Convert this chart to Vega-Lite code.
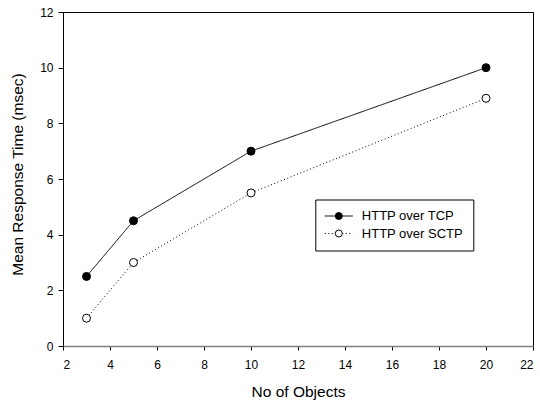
{
  "$schema": "https://vega.github.io/schema/vega-lite/v6.json",
  "width": 470,
  "height": 334,
  "autosize": "none",
  "padding": {"left": 63, "top": 12, "right": 7, "bottom": 58},
  "background": "white",
  "view": {"stroke": "black", "strokeWidth": 1},
  "config": {
    "font": "Liberation Sans",
    "axis": {
      "grid": false,
      "labelFont": "Liberation Sans",
      "labelFontSize": 12,
      "labelColor": "black",
      "titleFont": "Liberation Sans",
      "titleFontSize": 15.5,
      "titleFontWeight": "normal",
      "titleColor": "black",
      "tickColor": "black",
      "tickWidth": 1
    },
    "legend": {
      "labelFont": "Liberation Sans",
      "labelFontSize": 13,
      "labelColor": "black"
    }
  },
  "data": {
    "values": [
      {"objects": 3, "time": 2.5, "series": "HTTP over TCP"},
      {"objects": 5, "time": 4.5, "series": "HTTP over TCP"},
      {"objects": 10, "time": 7.0, "series": "HTTP over TCP"},
      {"objects": 20, "time": 10.0, "series": "HTTP over TCP"},
      {"objects": 3, "time": 1.0, "series": "HTTP over SCTP"},
      {"objects": 5, "time": 3.0, "series": "HTTP over SCTP"},
      {"objects": 10, "time": 5.5, "series": "HTTP over SCTP"},
      {"objects": 20, "time": 8.9, "series": "HTTP over SCTP"}
    ]
  },
  "encoding": {
    "x": {
      "field": "objects",
      "type": "quantitative",
      "scale": {"domain": [2, 22], "nice": false, "zero": false},
      "axis": {
        "title": "No of Objects",
        "values": [2, 4, 6, 8, 10, 12, 14, 16, 18, 20, 22],
        "domainColor": "#808080",
        "domainWidth": 1.5,
        "tickSize": 4,
        "labelPadding": 9,
        "titlePadding": 14
      }
    },
    "y": {
      "field": "time",
      "type": "quantitative",
      "scale": {"domain": [0, 12], "nice": false},
      "axis": {
        "title": "Mean Response Time (msec)",
        "values": [0, 2, 4, 6, 8, 10, 12],
        "domainColor": "black",
        "tickSize": 5,
        "labelPadding": 5,
        "titlePadding": 14,
        "titleY": 162
      }
    }
  },
  "layer": [
    {
      "mark": {"type": "line", "color": "black", "strokeWidth": 1},
      "encoding": {
        "strokeDash": {
          "field": "series",
          "type": "nominal",
          "scale": {"domain": ["HTTP over TCP", "HTTP over SCTP"], "range": [[1, 0], [1, 2.5]]},
          "legend": {
            "title": null,
            "orient": "none",
            "legendX": 252.3,
            "legendY": 187.5,
            "padding": 10,
            "strokeColor": "black",
            "fillColor": "white",
            "symbolType": "M-4,0L4,0",
            "symbolSize": 49,
            "symbolOffset": 7,
            "symbolStrokeColor": "black",
            "symbolStrokeWidth": 1,
            "labelOffset": 16.5,
            "rowPadding": 3.5
          }
        }
      }
    },
    {
      "mark": {"type": "point", "shape": "circle", "filled": true, "stroke": "black", "strokeWidth": 1, "size": 64, "opacity": 1},
      "encoding": {
        "fill": {
          "field": "series",
          "type": "nominal",
          "sort": "descending",
          "scale": {"range": ["black", "white"]},
          "legend": {
            "title": null,
            "orient": "none",
            "legendX": 252.3,
            "legendY": 187.5,
            "padding": 10,
            "symbolType": "circle",
            "symbolSize": 49,
            "symbolOffset": 7,
            "symbolStrokeColor": "black",
            "symbolStrokeWidth": 1,
            "symbolOpacity": 1,
            "labelOpacity": 0,
            "labelOffset": 16.5,
            "rowPadding": 3.5
          }
        }
      }
    }
  ]
}
